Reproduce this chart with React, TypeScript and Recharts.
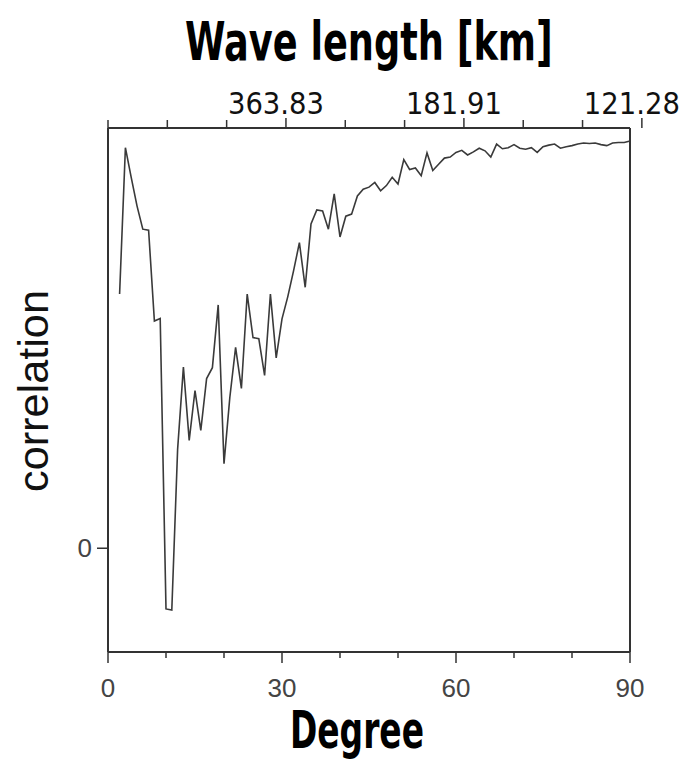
import { useLayoutEffect, useRef, useState } from 'react'
import { LineChart, Line, XAxis, YAxis } from 'recharts'

// spherical harmonic degree
const degrees = [
  2, 3, 4, 5, 6, 7, 8, 9, 10, 11, 12, 13, 14, 15, 16, 17, 18, 19, 20, 21,
  22, 23, 24, 25, 26, 27, 28, 29, 30, 31, 32, 33, 34, 35, 36, 37, 38, 39, 40, 41,
  42, 43, 44, 45, 46, 47, 48, 49, 50, 51, 52, 53, 54, 55, 56, 57, 58, 59, 60, 61,
  62, 63, 64, 65, 66, 67, 68, 69, 70, 71, 72, 73, 74, 75, 76, 77, 78, 79, 80, 81,
  82, 83, 84, 85, 86, 87, 88, 89, 90,
]

const correlation = [
  0.49, 0.772, 0.715, 0.66, 0.615, 0.613, 0.438, 0.443, -0.117, -0.119,
  0.19, 0.349, 0.208, 0.304, 0.227, 0.327, 0.348, 0.469, 0.163, 0.29,
  0.387, 0.308, 0.49, 0.406, 0.404, 0.333, 0.49, 0.367, 0.442, 0.485,
  0.535, 0.589, 0.503, 0.625, 0.652, 0.65, 0.615, 0.683, 0.6, 0.64,
  0.644, 0.679, 0.692, 0.696, 0.705, 0.689, 0.699, 0.715, 0.702, 0.749,
  0.73, 0.733, 0.718, 0.762, 0.728, 0.74, 0.752, 0.754, 0.763, 0.767,
  0.758, 0.764, 0.771, 0.766, 0.754, 0.779, 0.77, 0.772, 0.778, 0.771,
  0.769, 0.772, 0.763, 0.774, 0.777, 0.779, 0.771, 0.774, 0.776, 0.779,
  0.781, 0.78, 0.781, 0.778, 0.776, 0.781, 0.782, 0.782, 0.785,
]

const degreeTicks = [0, 10, 20, 30, 40, 50, 60, 70, 80, 90]
const labeledDegrees = [0, 30, 60, 90]
const waveLengthLabels: Record<number, string> = { 30: '363.83', 60: '181.91', 90: '121.28' }

const data = degrees.map((d, i) => ({ degree: d, corr: correlation[i] }))

const titleFont = "'DejaVu Sans Condensed', 'DejaVu Sans', sans-serif"
const tickFont = "'Liberation Sans', Arial, sans-serif"
const ink = '#333'

// squeezes text horizontally so it spans `width` px (condensed look of the original)
function FitText({ x, y, width, rotate = false, anchor = 'start', children, ...rest }: any) {
  const ref = useRef<SVGTextElement>(null)
  const [sx, setSx] = useState(1)
  useLayoutEffect(() => {
    if (ref.current) {
      const w = ref.current.getComputedTextLength()
      if (w > 0) setSx(width / w)
    }
  }, [width, children])
  return (
    <text ref={ref} x={0} y={0} textAnchor={anchor}
      transform={`translate(${x} ${y})${rotate ? ' rotate(-90)' : ''} scale(${sx} 1)`} {...rest}>
      {children}
    </text>
  )
}

const BottomTick = (props: any) => {
  const { x, y, payload } = props
  const major = labeledDegrees.includes(payload.value)
  return (
    <g>
      <line x1={x} y1={y} x2={x} y2={y + (major ? 11 : 6)} stroke={ink} strokeWidth={1.5} />
      {major && (
        <text x={x} y={y + 45} textAnchor="middle" fontSize={26} fill="#444" fontFamily={tickFont}>
          {payload.value}
        </text>
      )}
    </g>
  )
}

const TopTick = (props: any) => {
  const { x, y, payload } = props
  const label = waveLengthLabels[payload.value]
  return (
    <g>
      <line x1={x} y1={y} x2={x} y2={y - (label ? 10 : 8)} stroke={ink} strokeWidth={1.5} />
      {label && (
        <FitText x={x - 10} y={y - 14} width={96} anchor="middle" fontSize={31} fill="#111"
          fontFamily={titleFont}>
          {label}
        </FitText>
      )}
    </g>
  )
}

const LeftTick = (props: any) => {
  const { x, y, payload } = props
  return (
    <g>
      <line x1={x} y1={y} x2={x - 11} y2={y} stroke={ink} strokeWidth={1.5} />
      <text x={x - 16} y={y + 9} textAnchor="end" fontSize={26} fill="#444" fontFamily={tickFont}>
        {payload.value}
      </text>
    </g>
  )
}

const RightTick = (props: any) => {
  const { x, y } = props
  return <line x1={x} y1={y} x2={x + 10} y2={y} stroke={ink} strokeWidth={1.5} />
}

export default function App() {
  return (
    <div style={{ position: 'absolute', left: 0, top: 0, width: 682, height: 762, background: '#fff' }}>
      <LineChart width={682} height={762} data={data}
        margin={{ top: 88, right: 42, bottom: 70, left: 68 }}>
        <XAxis dataKey="degree" type="number" domain={[0, 90]} ticks={degreeTicks}
          height={40} tickSize={0} tickMargin={0} tick={BottomTick}
          axisLine={{ stroke: ink, strokeWidth: 2 }}
          label={{
            content: () => (
              <FitText x={290} y={748} width={134} fontSize={52} fontWeight="bold" fill="#000"
                fontFamily={titleFont}>
                Degree
              </FitText>
            ),
          }}
        />
        <XAxis xAxisId="top" orientation="top" type="number" domain={[0, 90]} ticks={degreeTicks}
          height={40} tickSize={0} tickMargin={0} tick={TopTick}
          axisLine={{ stroke: ink, strokeWidth: 2 }}
          label={{
            content: () => (
              <FitText x={185} y={60} width={368} fontSize={53} fontWeight="bold" fill="#000"
                fontFamily={titleFont}>
                Wave length [km]
              </FitText>
            ),
          }}
        />
        <YAxis type="number" domain={[-0.2, 0.81]} ticks={[0]} width={40}
          tickSize={0} tickMargin={0} tick={LeftTick}
          axisLine={{ stroke: ink, strokeWidth: 2 }}
          label={{
            content: () => (
              <FitText x={48} y={391} width={202} rotate anchor="middle"
                fontSize={43} fill="#111" fontFamily={tickFont}>
                correlation
              </FitText>
            ),
          }}
        />
        <YAxis yAxisId="right" orientation="right" type="number" domain={[-0.2, 0.81]} ticks={[0]}
          width={10} tickSize={0} tickMargin={0} tick={RightTick}
          axisLine={{ stroke: ink, strokeWidth: 2 }}
        />
        <Line dataKey="corr" type="linear" stroke="#3a3a3a" strokeWidth={1.6}
          dot={false} isAnimationActive={false} />
      </LineChart>
    </div>
  )
}
